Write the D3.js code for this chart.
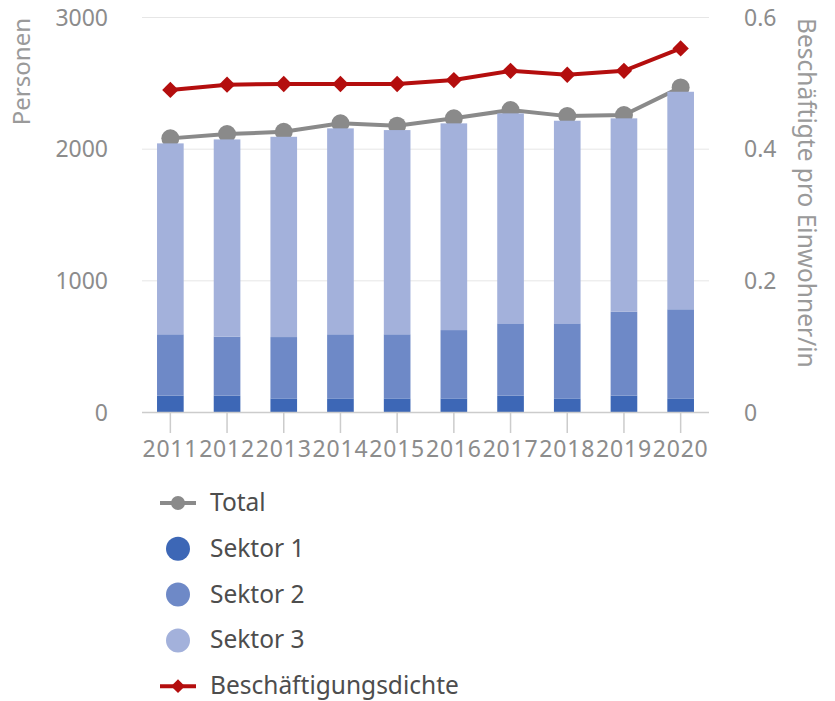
<!DOCTYPE html>
<html>
<head>
<meta charset="utf-8">
<script src="https://d3js.org/d3.v7.min.js"></script>
<style>
  body { margin: 0; background: #fff; }
  text { font-family: "Noto Sans", sans-serif; }
</style>
</head>
<body>
<svg id="vis"></svg>
<script>
  var years = ['2011','2012','2013','2014','2015','2016','2017','2018','2019','2020']
  var sektor1 = [128, 128, 107, 107, 107, 107, 128, 107, 128, 107]
  var sektor2 = [466, 448, 466, 487, 487, 519, 549, 570, 637, 677]
  var sektor3 = [1450, 1498, 1521, 1564, 1551, 1570, 1595, 1539, 1469, 1652]
  var total = [2082, 2115, 2132, 2196, 2178, 2234, 2297, 2251, 2259, 2469]
  var dichte = [0.490, 0.498, 0.499, 0.499, 0.499, 0.505, 0.519, 0.513, 0.519, 0.553]
  var leftTicks = [0, 1000, 2000, 3000]
  var rightTicks = [0, 0.2, 0.4, 0.6]

  var W = 835, H = 701
  var svg = d3.select('#vis').attr('width', W).attr('height', H)

  var x = d3.scaleBand().domain(years).range([142, 709]).paddingInner(0.53).paddingOuter(0.265)
  var y = d3.scaleLinear().domain([0, 3000]).range([412.5, 17.5])
  var yR = d3.scaleLinear().domain([0, 0.6]).range([412.5, 17.5])

  // grid
  svg.selectAll('.grid').data(leftTicks.slice(1)).enter().append('line')
    .attr('x1', 142).attr('x2', 709)
    .attr('y1', function (d) { return y(d) }).attr('y2', function (d) { return y(d) })
    .attr('stroke', '#e6e6e6').attr('stroke-width', 1)

  // left axis labels
  svg.selectAll('.lt').data(leftTicks).enter().append('text')
    .attr('x', 108).attr('y', function (d) { return y(d) + 8 })
    .attr('text-anchor', 'end').attr('fill', '#8c8c8c').attr('font-size', 23)
    .text(function (d) { return d })
  // right axis labels
  svg.selectAll('.rt').data(rightTicks).enter().append('text')
    .attr('x', 744).attr('y', function (d) { return yR(d) + 8 })
    .attr('text-anchor', 'start').attr('fill', '#8c8c8c').attr('font-size', 23)
    .text(function (d) { return d === 0 ? '0' : d.toFixed(1) })

  // axis titles
  svg.append('text')
    .attr('transform', 'translate(30,18) rotate(-90)')
    .attr('text-anchor', 'end').attr('fill', '#9a9a9a').attr('font-size', 24)
    .text('Personen')
  svg.append('text')
    .attr('transform', 'translate(798,18) rotate(90)')
    .attr('text-anchor', 'start').attr('fill', '#9a9a9a').attr('font-size', 24.5)
    .text('Beschäftigte pro Einwohner/in')

  // total line (behind bars)
  var cx = function (d, i) { return x(years[i]) + x.bandwidth() / 2 }
  var totLine = d3.line().x(function (d, i) { return cx(d, i) }).y(function (d) { return y(d) })
  svg.append('path').datum(total).attr('d', totLine)
    .attr('fill', 'none').attr('stroke', '#8a8a8a').attr('stroke-width', 4)
  svg.selectAll('.tot').data(total).enter().append('circle')
    .attr('cx', cx).attr('cy', function (d) { return y(d) }).attr('r', 9)
    .attr('fill', '#8a8a8a')

  // stacked bars
  var rows = years.map(function (yr, i) { return { year: yr, s1: sektor1[i], s2: sektor2[i], s3: sektor3[i] } })
  var stack = d3.stack().keys(['s1', 's2', 's3'])(rows)
  var colors = { s1: '#3d67b6', s2: '#6e89c7', s3: '#a3b1db' }
  stack.forEach(function (layer) {
    svg.selectAll('.b' + layer.key).data(layer).enter().append('rect')
      .attr('x', function (d) { return x(d.data.year) })
      .attr('width', x.bandwidth())
      .attr('y', function (d) { return y(d[1]) })
      .attr('height', function (d) { return y(d[0]) - y(d[1]) })
      .attr('fill', colors[layer.key])
  })

  // baseline and ticks
  svg.append('line').attr('x1', 142).attr('x2', 709).attr('y1', 412.5).attr('y2', 412.5)
    .attr('stroke', '#cccccc').attr('stroke-width', 1.5)
  svg.selectAll('.xt').data(years).enter().append('line')
    .attr('x1', function (d) { return x(d) + x.bandwidth() / 2 })
    .attr('x2', function (d) { return x(d) + x.bandwidth() / 2 })
    .attr('y1', 413).attr('y2', 433)
    .attr('stroke', '#cccccc').attr('stroke-width', 1.5)
  svg.selectAll('.xl').data(years).enter().append('text')
    .attr('x', function (d) { return x(d) + x.bandwidth() / 2 })
    .attr('y', 457)
    .attr('text-anchor', 'middle').attr('fill', '#8c8c8c').attr('font-size', 23)
    .attr('letter-spacing', 0.8)
    .text(function (d) { return d })

  // density line
  var dLine = d3.line().x(function (d, i) { return cx(d, i) }).y(function (d) { return yR(d) })
  svg.append('path').datum(dichte).attr('d', dLine)
    .attr('fill', 'none').attr('stroke', '#b40e0e').attr('stroke-width', 4)
  var diamond = d3.symbol().type(d3.symbolDiamond2).size(170)
  svg.selectAll('.dd').data(dichte).enter().append('path')
    .attr('d', diamond)
    .attr('transform', function (d, i) { return 'translate(' + cx(d, i) + ',' + yR(d) + ')' })
    .attr('fill', '#b40e0e')

  // legend
  var legend = [
    { name: 'Total', type: 'line', color: '#8a8a8a' },
    { name: 'Sektor 1', type: 'dot', color: colors.s1 },
    { name: 'Sektor 2', type: 'dot', color: colors.s2 },
    { name: 'Sektor 3', type: 'dot', color: colors.s3 },
    { name: 'Beschäftigungsdichte', type: 'diamond', color: '#b40e0e' }
  ]
  var lg = svg.selectAll('.lg').data(legend).enter().append('g')
    .attr('transform', function (d, i) { return 'translate(178,' + (503 + i * 45.8) + ')' })
  lg.filter(function (d) { return d.type !== 'dot' }).append('line')
    .attr('x1', -18).attr('x2', 18).attr('stroke', function (d) { return d.color }).attr('stroke-width', 4)
  lg.filter(function (d) { return d.type === 'line' }).append('circle')
    .attr('r', 7).attr('fill', function (d) { return d.color })
  lg.filter(function (d) { return d.type === 'dot' }).append('circle')
    .attr('r', 12).attr('fill', function (d) { return d.color })
  lg.filter(function (d) { return d.type === 'diamond' }).append('path')
    .attr('d', d3.symbol().type(d3.symbolDiamond2).size(120)).attr('fill', function (d) { return d.color })
  lg.append('text').attr('x', 32).attr('y', 8)
    .attr('fill', '#4d4d4d').attr('font-size', 24.5)
    .text(function (d) { return d.name })
</script>
</body>
</html>
